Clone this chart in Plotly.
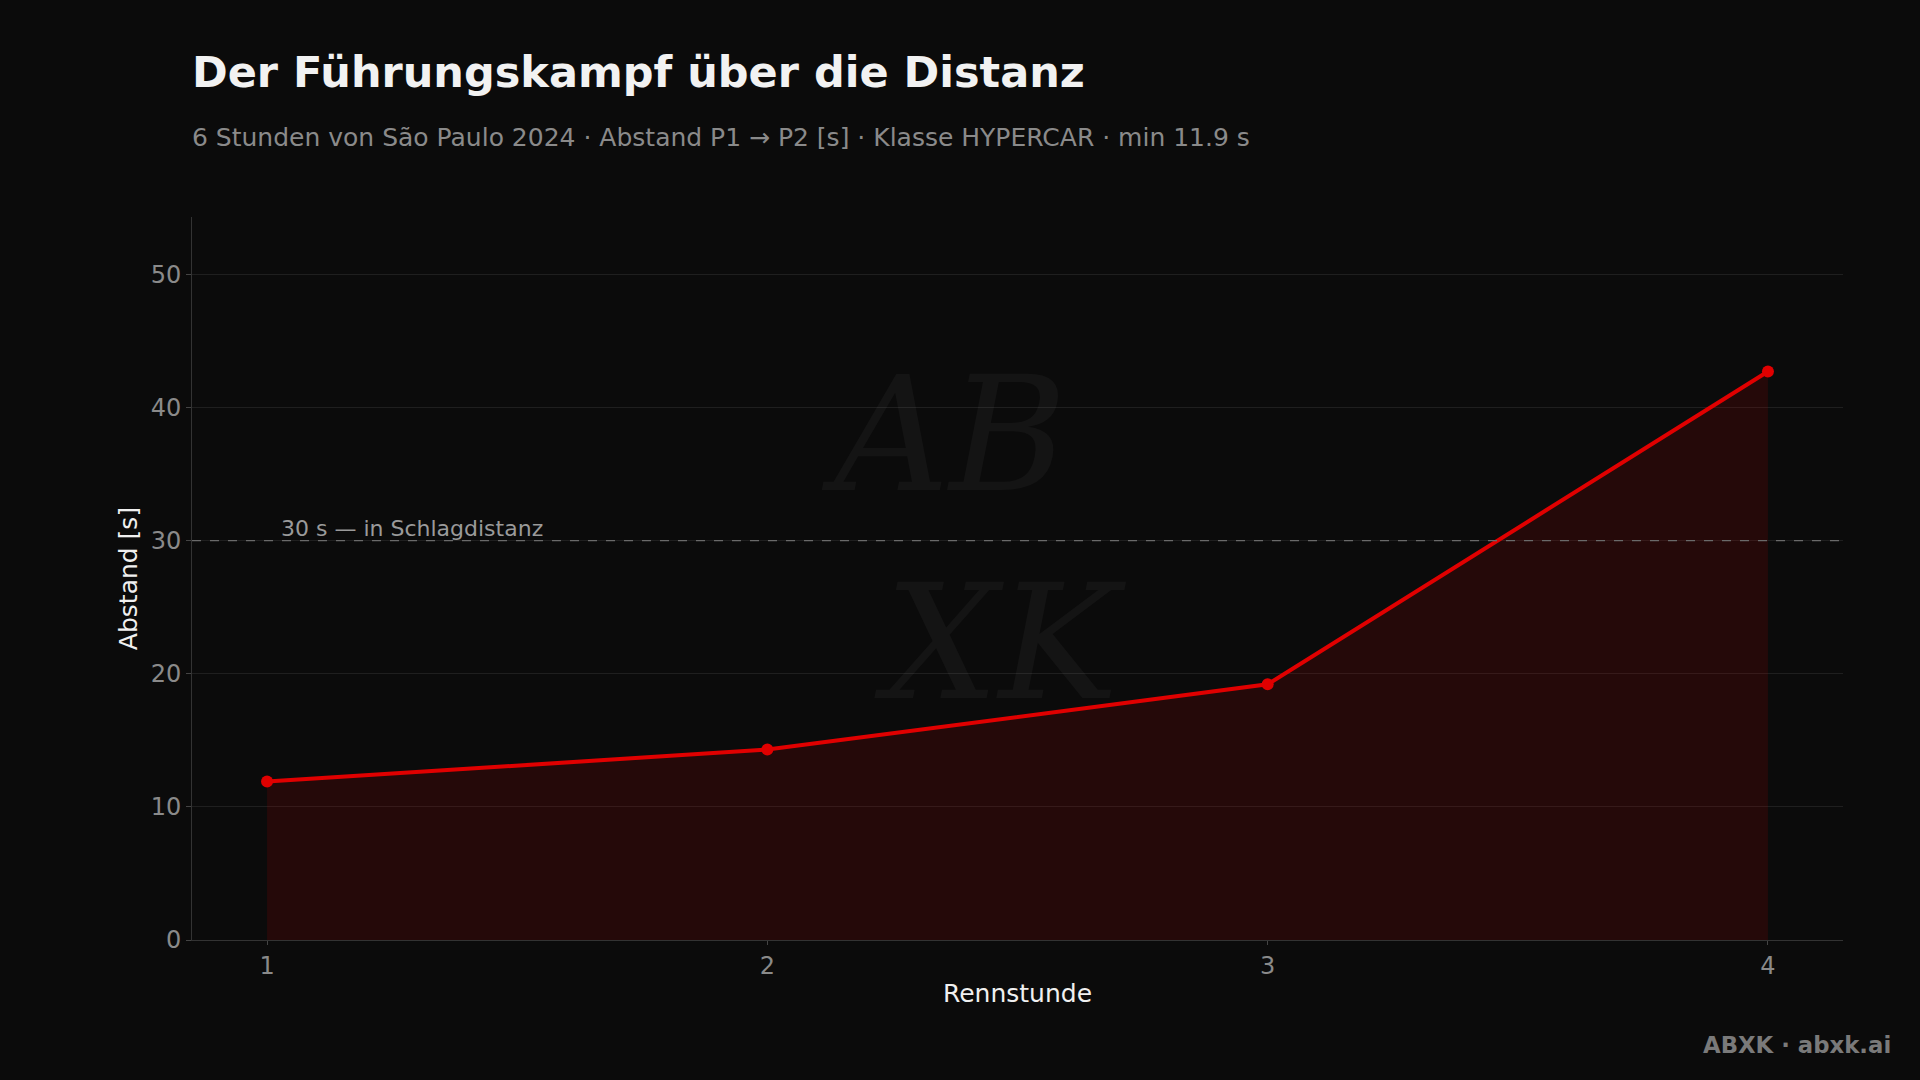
import plotly.graph_objects as go

hours = [1, 2, 3, 4]
gap_s = [11.9, 14.3, 19.2, 42.7]
threshold = 30
threshold_label = "30 s — in Schlagdistanz"
title = "Der Führungskampf über die Distanz"
subtitle = "6 Stunden von São Paulo 2024 · Abstand P1 → P2 [s] · Klasse HYPERCAR · min 11.9 s"
footer = "ABXK · abxk.ai"

BG = "#0b0b0b"
FONT = "DejaVu Sans"

fig = go.Figure()
fig.add_trace(go.Scatter(
    x=hours, y=gap_s, mode="lines+markers",
    line=dict(color="#e00000", width=4),
    marker=dict(color="#e00000", size=12),
    fill="tozeroy", fillcolor="rgba(200,0,0,0.14)",
    showlegend=False, hoverinfo="x+y",
))

fig.add_shape(type="line", xref="paper", yref="y", x0=0, x1=1, y0=threshold, y1=threshold,
              line=dict(color="#6a6a6a", width=1.2, dash="dash"), layer="above")
fig.add_annotation(xref="x", yref="y", x=hours[0], y=threshold,
                   text=threshold_label, showarrow=False, xanchor="left", yanchor="bottom",
                   xshift=12, yshift=-2,
                   font=dict(family=FONT, size=22, color="#9a9a9a"))

# watermark
fig.add_annotation(xref="paper", yref="paper", x=0.462, y=0.555,
                   text="<i>AB<br>&nbsp;&nbsp;XK</i>", showarrow=False,
                   font=dict(family="DejaVu Serif", size=160, color="rgba(255,255,255,0.04)"))

fig.add_annotation(xref="paper", yref="paper", x=0, y=1, xanchor="left", yanchor="bottom",
                   text="<b>" + title + "</b>", showarrow=False, yshift=118, xshift=-2,
                   font=dict(family=FONT, size=43, color="#f2f2f2"))
fig.add_annotation(xref="paper", yref="paper", x=0, y=1, xanchor="left", yanchor="bottom",
                   text=subtitle, showarrow=False, yshift=63, xshift=-2,
                   font=dict(family=FONT, size=25, color="#8a8a8a"))
fig.add_annotation(xref="paper", yref="paper", x=1.030, y=0, xanchor="right", yanchor="top",
                   text="<b>" + footer + "</b>", showarrow=False, yshift=-90,
                   font=dict(family=FONT, size=22.8, color="#7a7a7a"))

fig.update_layout(
    width=1920, height=1080,
    paper_bgcolor=BG, plot_bgcolor=BG,
    margin=dict(l=192, r=77, t=217, b=140),
    font=dict(family=FONT, color="#8a8a8a"),
    xaxis=dict(range=[0.85, 4.15], tickvals=hours, ticktext=[str(h) for h in hours],
               showgrid=False, zeroline=False, showline=True, linecolor="#333333", linewidth=1,
               ticks="outside", ticklen=4, tickcolor="#444444",
               tickfont=dict(family=FONT, size=24, color="#8a8a8a"),
               title=dict(text="Rennstunde", font=dict(family=FONT, size=25, color="#f0f0f0"), standoff=5)),
    yaxis=dict(range=[0, 54.3], tickvals=[0, 10, 20, 30, 40, 50],
               showgrid=True, gridcolor="#1f1f1f", gridwidth=1, zeroline=False,
               showline=True, linecolor="#333333", linewidth=1,
               ticks="outside", ticklen=5, tickcolor="#444444",
               tickfont=dict(family=FONT, size=24, color="#8a8a8a"),
               title=dict(text="Abstand [s]", font=dict(family=FONT, size=25, color="#f0f0f0"), standoff=5)),
)

fig.write_html("out.html", config={"displayModeBar": False},
               post_script="document.body.style.margin='0';document.body.style.background='#0b0b0b';")
